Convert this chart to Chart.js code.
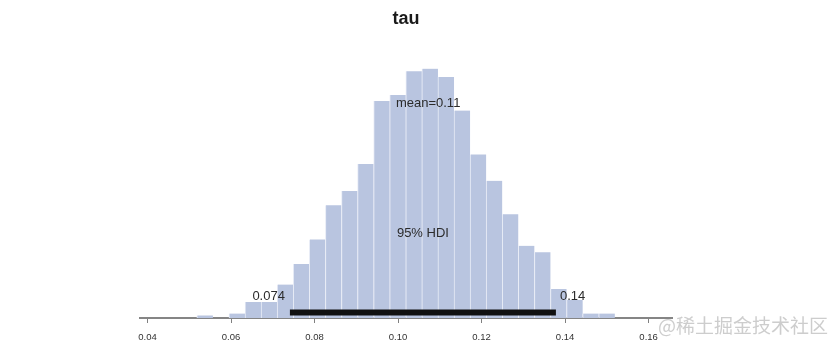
<!DOCTYPE html>
<html><head><meta charset="utf-8">
<script src="https://cdn.jsdelivr.net/npm/chart.js@4"></script>
<style>html,body{margin:0;padding:0;background:#fff}#wrap{width:828px;height:350px;position:relative}canvas{display:block}</style>
</head><body><div id="wrap"><canvas id="c" width="828" height="350"></canvas></div>
<script>
const titleText = 'tau';
const binCenters = [0.05373,0.05758,0.06143,0.06528,0.06913,0.07298,0.07683,0.08068,0.08453,0.08838,0.09223,0.09608,0.09993,0.10378,0.10763,0.11148,0.11533,0.11918,0.12303,0.12688,0.13073,0.13458,0.13843,0.14228,0.14613,0.14998];
const binCounts = [4,0,7,25,25,52,84,122,175,197,239,337,346,383,387,374,322,254,213,161,112,102,45,28,7,7];
const hdiBounds = [0.0741, 0.1378];
const hdiLabels = ['0.074', '0.14'];
const hdiText = '95% HDI';
const meanValue = 0.1072;
const meanLabel = 'mean=0.11';
const xTicks = [0.04,0.06,0.08,0.10,0.12,0.14,0.16];
const xTickLabels = ['0.04','0.06','0.08','0.10','0.12','0.14','0.16'];
const watermark = '@稀土掘金技术社区';

const yMax = 430;
const FONT = '"Liberation Sans", Arial, Helvetica, sans-serif';

const annot = {
  id: 'annot',
  afterDatasetsDraw(chart) {
    const {ctx, scales: {x, y}, chartArea} = chart;
    ctx.save();
    ctx.fillStyle = '#1a1a1a';
    ctx.font = 'bold 18px ' + FONT;
    ctx.textAlign = 'center';
    ctx.textBaseline = 'alphabetic';
    ctx.fillText(titleText, (chartArea.left + chartArea.right) / 2, 24);
    ctx.fillStyle = '#2b2b2b';
    ctx.font = '13px ' + FONT;
    ctx.textBaseline = 'middle';
    ctx.textAlign = 'center';
    ctx.fillText(meanLabel, x.getPixelForValue(meanValue), y.getPixelForValue(yMax * 0.776));
    ctx.fillText(hdiText, x.getPixelForValue((hdiBounds[0] + hdiBounds[1]) / 2), y.getPixelForValue(yMax * 0.307));
    ctx.textAlign = 'right';
    ctx.fillText(hdiLabels[0], x.getPixelForValue(hdiBounds[0]) - 5, y.getPixelForValue(yMax * 0.079));
    ctx.textAlign = 'left';
    ctx.fillText(hdiLabels[1], x.getPixelForValue(hdiBounds[1]) + 4, y.getPixelForValue(yMax * 0.079));
    ctx.font = '19px "Noto Sans CJK SC", sans-serif';
    ctx.fillStyle = 'rgba(200,200,200,0.9)';
    ctx.textAlign = 'left';
    ctx.fillText(watermark, 658, 326);
    ctx.restore();
  }
};

new Chart(document.getElementById('c'), {
  type: 'bar',
  data: {
    datasets: [
      {
        type: 'bar',
        data: binCenters.map((v, i) => ({x: v, y: binCounts[i]})),
        backgroundColor: '#b9c5e0',
        borderColor: '#e8ecf6',
        borderWidth: {left: 1, right: 0, top: 0, bottom: 0},
        borderSkipped: false,
        barPercentage: 1,
        categoryPercentage: 1,
        order: 2
      },
      {
        type: 'line',
        data: hdiBounds.map(v => ({x: v, y: yMax * 0.02})),
        borderColor: '#111',
        borderWidth: 6,
        borderCapStyle: 'butt',
        pointRadius: 0,
        fill: false,
        order: 1
      }
    ]
  },
  options: {
    responsive: false,
    animation: false,
    devicePixelRatio: 1,
    layout: {padding: {left: 140, right: 156, top: 41, bottom: 0}},
    plugins: {legend: {display: false}, tooltip: {enabled: false}, title: {display: false}},
    scales: {
      x: {
        type: 'linear',
        min: 0.0382,
        max: 0.1656,
        offset: false,
        afterBuildTicks: s => { s.ticks = xTicks.map(v => ({value: v})); },
        afterFit: s => { s.height = 32; },
        ticks: {
          callback: (v, i) => xTickLabels[i],
          font: {size: 9.5, family: FONT},
          color: '#333',
          padding: 9,
          maxRotation: 0,
          autoSkip: false
        },
        grid: {offset: false, drawOnChartArea: false, drawTicks: true, tickLength: 5, color: '#808080', lineWidth: 1},
        border: {display: true, color: '#858585', width: 2}
      },
      y: {display: false, min: 0, max: yMax}
    }
  },
  plugins: [annot]
});
</script>
</body></html>
